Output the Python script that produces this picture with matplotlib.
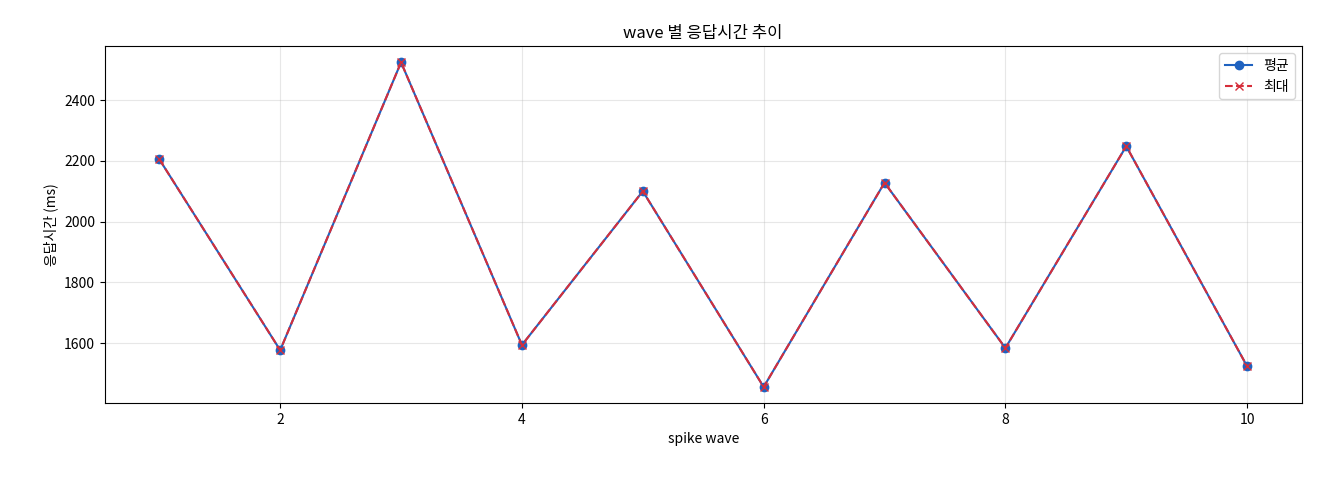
import matplotlib
matplotlib.use("Agg")
import matplotlib.pyplot as plt

plt.rcParams['font.family'] = ['Noto Sans CJK KR', 'DejaVu Sans']

waves = [1, 2, 3, 4, 5, 6, 7, 8, 9, 10]
avg_ms = [2205, 1577, 2524, 1594, 2100, 1456, 2128, 1584, 2248, 1524]
max_ms = [2205, 1577, 2524, 1594, 2100, 1456, 2128, 1584, 2248, 1524]

fig, ax = plt.subplots(figsize=(13.2, 4.8), dpi=100)
ax.plot(waves, avg_ms, '-o', color='#1f62c0', label='평균', markersize=6)
ax.plot(waves, max_ms, '--x', color='#d62e3a', label='최대', markersize=6)
ax.set_title('wave 별 응답시간 추이')
ax.set_xlabel('spike wave')
ax.set_ylabel('응답시간 (ms)')
ax.grid(True, alpha=0.3)
ax.legend(loc='upper right')
fig.subplots_adjust(left=0.0795, right=0.986, top=0.904, bottom=0.160)
fig.savefig('out.png')
